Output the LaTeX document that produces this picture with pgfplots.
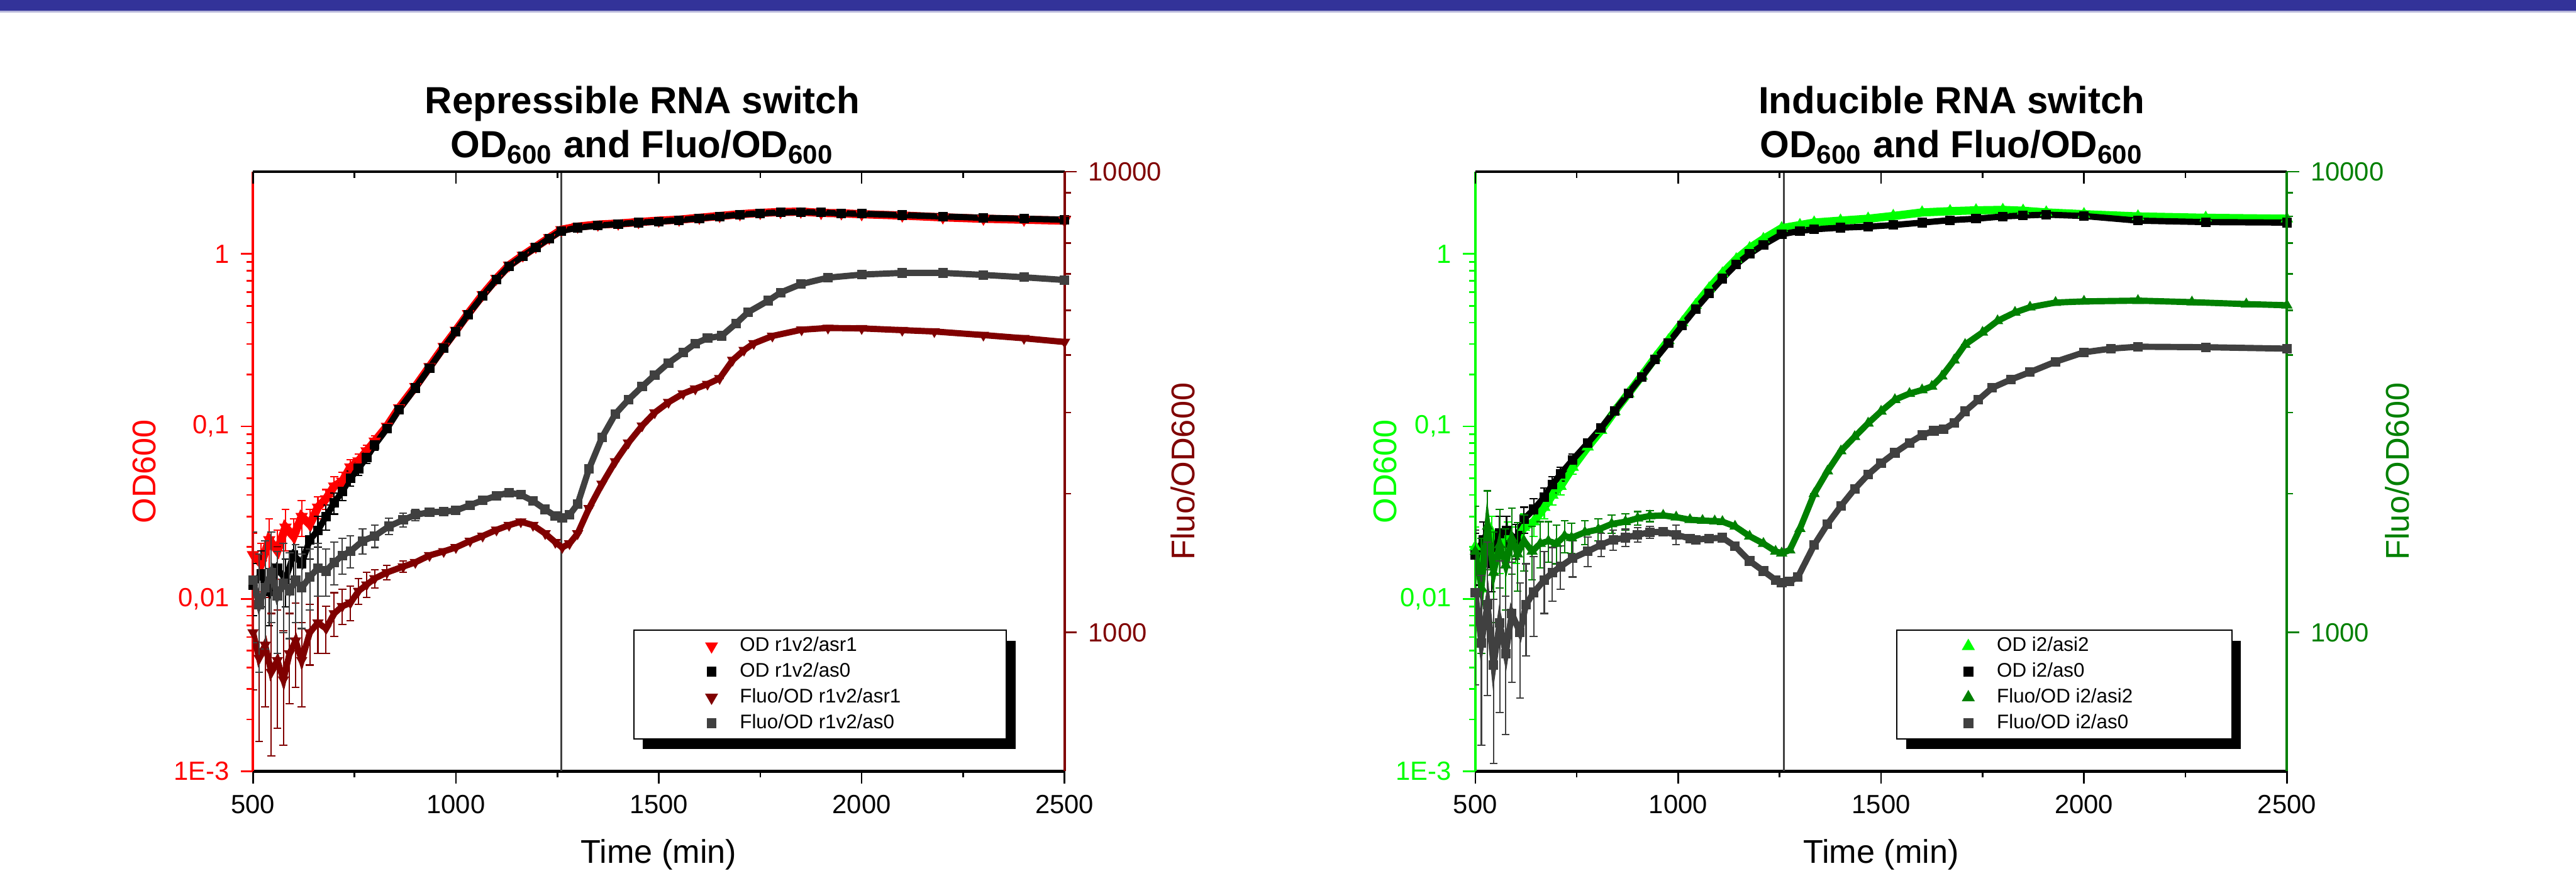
\documentclass[border=0pt]{standalone}
\usepackage{fontspec}
\setmainfont{Liberation Sans}
\usepackage{pgfplots}
\usepackage{pgfplotstable}
\pgfplotsset{compat=1.18}
\usetikzlibrary{shadows}

\definecolor{odred}{RGB}{255,0,0}
\definecolor{flred}{RGB}{128,0,0}
\definecolor{odgreen}{RGB}{0,255,0}
\definecolor{flgreen}{RGB}{0,128,0}
\definecolor{asgray}{RGB}{64,64,64}
\definecolor{band}{RGB}{51,51,153}

% ---------- repressible switch ----------
\pgfplotstableread{
t v e
500 0.018 0.006
520 0.016 0.005
540 0.022 0.007
560 0.019 0.006
580 0.026 0.007
600 0.023 0.006
620 0.030 0.007
640 0.027 0.006
660 0.034 0.005
680 0.038 0.005
700 0.045 0.006
720 0.048 0.006
740 0.058 0.006
760 0.063 0.006
780 0.072 0.006
800 0.082 0.006
830 0.100 0
860 0.128 0
900 0.170 0
935 0.222 0
970 0.290 0
1000 0.36 0
1030 0.45 0
1066 0.58 0
1100 0.72 0
1131 0.86 0
1165 0.98 0
1197 1.10 0
1230 1.24 0
1260 1.38 0
1300 1.44 0
1350 1.48 0
1400 1.50 0
1450 1.53 0
1500 1.56 0
1550 1.58 0
1600 1.62 0
1650 1.66 0
1700 1.70 0
1750 1.73 0
1800 1.75 0
1850 1.76 0
1900 1.73 0
1950 1.72 0
2000 1.70 0
2100 1.67 0
2200 1.63 0
2300 1.60 0
2400 1.58 0
2500 1.56 0
}\odRa
\pgfplotstableread{
t v e
500 0.012 0.004
520 0.014 0.005
540 0.011 0.004
560 0.015 0.005
580 0.013 0.004
600 0.018 0.005
620 0.016 0.004
640 0.022 0.005
660 0.025 0.005
680 0.030 0.005
700 0.036 0.005
720 0.042 0.005
740 0.050 0.005
760 0.057 0.005
780 0.066 0.005
800 0.078 0.005
830 0.097 0
860 0.125 0
900 0.167 0
935 0.218 0
970 0.285 0
1000 0.355 0
1030 0.445 0
1066 0.57 0
1100 0.71 0
1131 0.85 0
1165 0.97 0
1197 1.09 0
1230 1.23 0
1260 1.36 0
1300 1.42 0
1350 1.46 0
1400 1.49 0
1450 1.52 0
1500 1.54 0
1550 1.57 0
1600 1.61 0
1650 1.65 0
1700 1.69 0
1750 1.72 0
1800 1.74 0
1850 1.75 0
1900 1.74 0
1950 1.72 0
2000 1.71 0
2100 1.68 0
2200 1.65 0
2300 1.62 0
2400 1.60 0
2500 1.58 0
}\odRb
\pgfplotstableread{
t v e
500 1000 250
515 880 300
530 940 250
545 820 280
560 870 250
575 790 220
590 900 200
605 960 200
620 870 180
640 1000 150
660 1050 150
680 1020 120
700 1100 120
720 1140 100
740 1160 100
760 1230 80
780 1270 80
800 1310 60
830 1350 50
870 1390 40
900 1420 0
935 1470 0
970 1500 0
1000 1530 0
1035 1580 0
1066 1620 0
1100 1670 0
1131 1710 0
1160 1740 0
1190 1710 0
1220 1640 0
1245 1570 0
1262 1530 0
1280 1560 0
1300 1640 0
1328 1860 0
1360 2100 0
1393 2350 0
1425 2580 0
1459 2810 0
1490 3000 0
1524 3160 0
1560 3300 0
1590 3380 0
1620 3460 0
1650 3560 0
1682 3900 0
1710 4100 0
1734 4240 0
1780 4400 0
1852 4540 0
1917 4580 0
2000 4570 0
2100 4530 0
2179 4500 0
2300 4420 0
2400 4350 0
2500 4270 0
}\flRa
\pgfplotstableread{
t v e
500 1300 350
515 1150 330
530 1250 330
545 1350 300
560 1200 300
575 1280 280
590 1230 260
605 1300 250
620 1250 230
640 1320 200
660 1380 180
680 1360 160
700 1420 150
720 1470 130
740 1500 120
770 1580 100
800 1620 90
835 1700 70
870 1755 60
900 1800 50
935 1824 0
970 1830 0
1000 1840 0
1035 1890 0
1066 1936 0
1100 1980 0
1131 2013 0
1160 1990 0
1190 1930 0
1220 1850 0
1245 1790 0
1262 1774 0
1280 1800 0
1300 1900 0
1328 2265 0
1360 2650 0
1393 2981 0
1425 3200 0
1459 3418 0
1490 3620 0
1524 3846 0
1560 4050 0
1590 4238 0
1620 4350 0
1655 4403 0
1690 4680 0
1720 4954 0
1770 5250 0
1800 5466 0
1850 5700 0
1917 5889 0
2000 5980 0
2100 6030 0
2200 6030 0
2300 5970 0
2400 5900 0
2500 5820 0
}\flRb

% ---------- inducible switch ----------
\pgfplotstableread{
t v e
500 0.020 0.006
520 0.017 0.006
540 0.024 0.006
560 0.019 0.005
580 0.023 0.005
600 0.021 0.005
620 0.026 0.005
644 0.028 0.005
670 0.034 0.005
690 0.040 0.005
710 0.045 0.005
740 0.058 0.005
777 0.076 0
810 0.095 0
843 0.122 0
877 0.155 0
910 0.196 0
943 0.25 0
976 0.315 0
1010 0.40 0
1043 0.505 0
1076 0.63 0
1109 0.77 0
1143 0.93 0
1176 1.08 0
1210 1.22 0
1255 1.41 0
1300 1.47 0
1335 1.52 0
1400 1.56 0
1468 1.60 0
1530 1.66 0
1601 1.74 0
1670 1.77 0
1734 1.79 0
1800 1.80 0
1850 1.78 0
1907 1.74 0
2000 1.70 0
2133 1.65 0
2300 1.62 0
2500 1.60 0
}\odIa
\pgfplotstableread{
t v e
500 0.018 0.006
520 0.022 0.006
540 0.016 0.005
560 0.024 0.006
577 0.025 0.005
600 0.022 0.005
620 0.029 0.005
644 0.033 0.005
670 0.039 0.005
690 0.046 0.005
710 0.053 0.005
740 0.064 0.005
777 0.080 0
810 0.098 0
843 0.123 0
877 0.155 0
910 0.194 0
943 0.245 0
976 0.305 0
1010 0.385 0
1043 0.48 0
1076 0.59 0
1109 0.72 0
1143 0.87 0
1176 1.00 0
1210 1.13 0
1255 1.30 0
1300 1.36 0
1335 1.39 0
1400 1.42 0
1468 1.44 0
1530 1.47 0
1601 1.52 0
1670 1.57 0
1734 1.60 0
1800 1.65 0
1850 1.67 0
1907 1.69 0
2000 1.66 0
2133 1.56 0
2300 1.53 0
2500 1.52 0
}\odIb
\pgfplotstableread{
t v e
500 1500 380
515 1250 350
530 1700 330
545 1350 300
560 1550 300
575 1400 280
590 1600 260
604 1480 250
620 1580 220
640 1500 200
660 1560 180
680 1580 160
700 1560 150
720 1620 130
737 1606 120
770 1650 100
803 1673 90
836 1720 80
870 1740 70
900 1770 60
930 1790 50
963 1795 0
995 1780 0
1029 1757 0
1060 1750 0
1090 1745 0
1109 1740 0
1140 1700 0
1176 1618 0
1210 1560 0
1240 1500 0
1255 1487 0
1275 1510 0
1300 1680 0
1335 2000 0
1368 2240 0
1401 2476 0
1435 2660 0
1468 2845 0
1500 3020 0
1534 3200 0
1570 3300 0
1601 3360 0
1625 3420 0
1650 3600 0
1680 3900 0
1707 4215 0
1750 4480 0
1787 4745 0
1830 4950 0
1867 5080 0
1930 5200 0
2000 5230 0
2133 5250 0
2266 5210 0
2400 5160 0
2500 5130 0
}\flIa
\pgfplotstableread{
t v e
500 1220 450
515 950 380
530 1150 420
545 850 330
560 1050 380
575 900 300
590 1100 320
610 1000 280
625 1150 260
644 1222 240
670 1300 200
690 1350 180
710 1390 150
740 1450 130
777 1500 110
810 1550 90
840 1590 80
870 1606 70
900 1630 60
930 1650 50
963 1655 0
995 1630 80
1029 1600 0
1043 1590 0
1076 1600 0
1109 1606 0
1140 1540 0
1176 1430 0
1210 1360 0
1240 1300 0
1255 1282 0
1275 1290 0
1295 1320 0
1335 1548 0
1368 1720 0
1401 1882 0
1435 2050 0
1468 2202 0
1500 2330 0
1534 2455 0
1570 2580 0
1601 2681 0
1630 2740 0
1654 2760 0
1680 2850 0
1707 3020 0
1740 3200 0
1774 3397 0
1820 3540 0
1867 3674 0
1930 3870 0
2000 4055 0
2066 4130 0
2133 4170 0
2300 4160 0
2500 4130 0
}\flIb

\pgfplotsset{
  pts/.style={line width=1.9pt, mark size=1.3pt},
  wide/.style={line width=2.5pt, mark size=1.9pt},
  eb/.style={error bars/y dir=both, error bars/y explicit,
    error bars/error bar style={line width=0.4pt},
    error bars/error mark options={rotate=90, mark size=1.2pt, line width=0.4pt}},
}

\begin{document}
\begin{tikzpicture}
\useasboundingbox (0,0) rectangle (784pt,265pt);
\fill[band] (0,261.7pt) rectangle (784pt,265pt);
\fill[band!35] (0,261.2pt) rectangle (784pt,261.7pt);

% ===== Repressible RNA switch =====
\begin{axis}[scale only axis, width=247pt, height=182.5pt, anchor=south west,
  at={(77pt,30.25pt)},
  xmin=500, xmax=2500, ymode=log, ymin=1e-3, ymax=3,
  axis x line*=bottom, axis y line*=left,
  xtick={500,1000,1500,2000,2500}, minor x tick num=1,
  xticklabels={500,1000,1500,2000,2500},
  ytick={0.001,0.01,0.1,1}, yticklabels={1E-3,{0,01},{0,1},1},
  xtick align=outside, ytick align=outside,
  major tick length=3.7pt, minor tick length=1.9pt,
  tick label style={font=\fontsize{8}{9.6}\selectfont},
  label style={font=\fontsize{10}{12}\selectfont},
  axis line style={line width=0.8pt},
  x axis line style={black, -}, y axis line style={odred, -},
  xtick style={black, line width=0.5pt}, ytick style={odred, line width=0.5pt},
  yticklabel style={text=odred},
  xlabel={Time (min)},
  xlabel style={at={(axis description cs:0.5,0)}, anchor=base, yshift=-28pt},
  ylabel={OD600},
  ylabel style={text=odred, at={(axis description cs:-0.134,0.5)}, anchor=center}]
\addplot[forget plot, asgray, line width=0.5pt] coordinates {(1260,0.001) (1260,3)};
\addplot[forget plot, odred, wide, mark=triangle*, mark options={rotate=180, line width=0.3pt}, eb]
  table[x=t, y=v, y error=e] {\odRa};
\addplot[forget plot, black, pts, mark=square*, mark options={line width=0.3pt}, eb]
  table[x=t, y=v, y error=e] {\odRb};
\end{axis}
\begin{axis}[scale only axis, width=247pt, height=182.5pt, anchor=south west,
  at={(77pt,30.25pt)},
  xmin=500, xmax=2500, ymode=log, ymin=500, ymax=10000,
  axis x line*=top, axis y line*=right,
  xtick={500,1000,1500,2000,2500}, minor x tick num=1, xticklabels={{},{},{},{},{}},
  ytick={1000,10000}, yticklabels={1000,10000},
  xtick align=inside, ytick align=outside,
  major tick length=3.7pt, minor tick length=1.9pt,
  tick label style={font=\fontsize{8}{9.6}\selectfont},
  label style={font=\fontsize{10}{12}\selectfont},
  axis line style={line width=0.8pt},
  x axis line style={black, -}, y axis line style={flred, -},
  xtick style={black, line width=0.5pt}, ytick style={flred, line width=0.5pt},
  yticklabel style={text=flred},
  ylabel={Fluo/OD600},
  ylabel style={text=flred, at={(axis description cs:1.146,0.5)}, anchor=center},
  legend cell align=left,
  legend image code/.code={\path (-11.5pt,0pt) (3pt,0pt); \draw[#1] plot coordinates {(0pt,0pt)};},
  legend style={at={(0.929,0.053)}, anchor=south east, draw=black, line width=0.4pt, fill=white,
    font=\fontsize{6}{7}\selectfont, inner xsep=12pt, inner ysep=1.1pt,
    row sep=0.4pt, nodes={inner sep=0.9pt, text height=4.4pt, text depth=1.2pt},
    drop shadow={shadow xshift=2.8pt, shadow yshift=-3.1pt, opacity=1, fill=black, draw=none}}]
\addplot[forget plot, flred, pts, mark=triangle*, mark size=1.7pt, mark options={rotate=180, line width=0.3pt}, eb]
  table[x=t, y=v, y error=e] {\flRa};
\addplot[forget plot, asgray, pts, mark=square*, mark options={line width=0.3pt}, eb]
  table[x=t, y=v, y error=e] {\flRb};
\addlegendimage{/tikz/only marks, odred, mark=triangle*, mark size=1.9pt, mark options={rotate=180}}
\addlegendentry{\makebox[72.7pt][l]{\hspace{4.5pt}OD r1v2/asr1}}
\addlegendimage{/tikz/only marks, black, mark=square*, mark size=1.3pt}
\addlegendentry{\makebox[72.7pt][l]{\hspace{4.5pt}OD r1v2/as0}}
\addlegendimage{/tikz/only marks, flred, mark=triangle*, mark size=1.9pt, mark options={rotate=180}}
\addlegendentry{\makebox[72.7pt][l]{\hspace{4.5pt}Fluo/OD r1v2/asr1}}
\addlegendimage{/tikz/only marks, asgray, mark=square*, mark size=1.3pt}
\addlegendentry{\makebox[72.7pt][l]{\hspace{4.5pt}Fluo/OD r1v2/as0}}
\end{axis}
\node[anchor=base, font=\bfseries\fontsize{11.5}{13}\selectfont] at (195.5pt,230.5pt) {Repressible RNA switch};
\node[anchor=base, font=\bfseries\fontsize{11.5}{13}\selectfont] at (195.5pt,217pt) {OD\textsubscript{600} and Fluo/OD\textsubscript{600}};

% ===== Inducible RNA switch =====
\begin{axis}[scale only axis, width=247pt, height=182.5pt, anchor=south west,
  at={(449pt,30.25pt)},
  xmin=500, xmax=2500, ymode=log, ymin=1e-3, ymax=3,
  axis x line*=bottom, axis y line*=left,
  xtick={500,1000,1500,2000,2500}, minor x tick num=1,
  xticklabels={500,1000,1500,2000,2500},
  ytick={0.001,0.01,0.1,1}, yticklabels={1E-3,{0,01},{0,1},1},
  xtick align=outside, ytick align=outside,
  major tick length=3.7pt, minor tick length=1.9pt,
  tick label style={font=\fontsize{8}{9.6}\selectfont},
  label style={font=\fontsize{10}{12}\selectfont},
  axis line style={line width=0.8pt},
  x axis line style={black, -}, y axis line style={odgreen, -},
  xtick style={black, line width=0.5pt}, ytick style={odgreen, line width=0.5pt},
  yticklabel style={text=odgreen},
  xlabel={Time (min)},
  xlabel style={at={(axis description cs:0.5,0)}, anchor=base, yshift=-28pt},
  ylabel={OD600},
  ylabel style={text=odgreen, at={(axis description cs:-0.111,0.5)}, anchor=center}]
\addplot[forget plot, asgray, line width=0.5pt] coordinates {(1260,0.001) (1260,3)};
\addplot[forget plot, odgreen, wide, mark=triangle*, mark options={line width=0.3pt}, eb]
  table[x=t, y=v, y error=e] {\odIa};
\addplot[forget plot, black, pts, mark=square*, mark options={line width=0.3pt}, eb]
  table[x=t, y=v, y error=e] {\odIb};
\end{axis}
\begin{axis}[scale only axis, width=247pt, height=182.5pt, anchor=south west,
  at={(449pt,30.25pt)},
  xmin=500, xmax=2500, ymode=log, ymin=500, ymax=10000,
  axis x line*=top, axis y line*=right,
  xtick={500,1000,1500,2000,2500}, minor x tick num=1, xticklabels={{},{},{},{},{}},
  ytick={1000,10000}, yticklabels={1000,10000},
  xtick align=inside, ytick align=outside,
  major tick length=3.7pt, minor tick length=1.9pt,
  tick label style={font=\fontsize{8}{9.6}\selectfont},
  label style={font=\fontsize{10}{12}\selectfont},
  axis line style={line width=0.8pt},
  x axis line style={black, -}, y axis line style={flgreen, -},
  xtick style={black, line width=0.5pt}, ytick style={flgreen, line width=0.5pt},
  yticklabel style={text=flgreen},
  ylabel={Fluo/OD600},
  ylabel style={text=flgreen, at={(axis description cs:1.136,0.5)}, anchor=center},
  legend cell align=left,
  legend image code/.code={\path (-11.5pt,0pt) (3pt,0pt); \draw[#1] plot coordinates {(0pt,0pt)};},
  legend style={at={(0.933,0.053)}, anchor=south east, draw=black, line width=0.4pt, fill=white,
    font=\fontsize{6}{7}\selectfont, inner xsep=10pt, inner ysep=1.1pt,
    row sep=0.4pt, nodes={inner sep=0.9pt, text height=4.4pt, text depth=1.2pt},
    drop shadow={shadow xshift=2.8pt, shadow yshift=-3.1pt, opacity=1, fill=black, draw=none}}]
\addplot[forget plot, flgreen, pts, mark=triangle*, mark size=1.7pt, mark options={line width=0.3pt}, eb]
  table[x=t, y=v, y error=e] {\flIa};
\addplot[forget plot, asgray, pts, mark=square*, mark options={line width=0.3pt}, eb]
  table[x=t, y=v, y error=e] {\flIb};
\addlegendimage{/tikz/only marks, odgreen, mark=triangle*, mark size=1.9pt}
\addlegendentry{\makebox[65.2pt][l]{\hspace{4.6pt}OD i2/asi2}}
\addlegendimage{/tikz/only marks, black, mark=square*, mark size=1.3pt}
\addlegendentry{\makebox[65.2pt][l]{\hspace{4.6pt}OD i2/as0}}
\addlegendimage{/tikz/only marks, flgreen, mark=triangle*, mark size=1.9pt}
\addlegendentry{\makebox[65.2pt][l]{\hspace{4.6pt}Fluo/OD i2/asi2}}
\addlegendimage{/tikz/only marks, asgray, mark=square*, mark size=1.3pt}
\addlegendentry{\makebox[65.2pt][l]{\hspace{4.6pt}Fluo/OD i2/as0}}
\end{axis}
\node[anchor=base, font=\bfseries\fontsize{11.5}{13}\selectfont] at (594pt,230.5pt) {Inducible RNA switch};
\node[anchor=base, font=\bfseries\fontsize{11.5}{13}\selectfont] at (594pt,217pt) {OD\textsubscript{600} and Fluo/OD\textsubscript{600}};
\end{tikzpicture}
\end{document}
